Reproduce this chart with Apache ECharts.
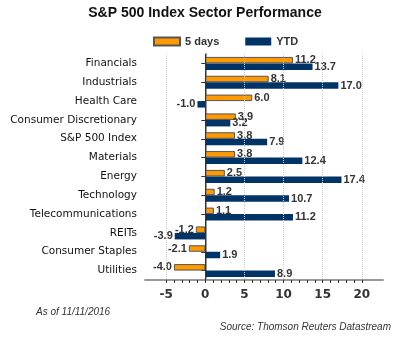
<!DOCTYPE html>
<html>
<head>
<meta charset="utf-8">
<script src="https://cdn.jsdelivr.net/npm/echarts@6/dist/echarts.min.js"></script>
<style>html,body{margin:0;padding:0;background:#fff;}#c{width:411px;height:337px;}</style>
</head>
<body>
<div id="c"></div>
<script>
var categories = ['Financials','Industrials','Health Care','Consumer Discretionary','S&P 500 Index','Materials','Energy','Technology','Telecommunications','REITs','Consumer Staples','Utilities'];
var fiveDays = [11.2, 8.1, 6.0, 3.9, 3.8, 3.8, 2.5, 1.2, 1.1, -1.2, -2.1, -4.0];
var ytd = [13.7, 17.0, -1.0, 3.2, 7.9, 12.4, 17.4, 10.7, 11.2, -3.9, 1.9, 8.9];
var xLabelValues = [-5, 0, 5, 10, 15, 20];
var xTickValues = [-5,-4,-3,-2,-1,0,1,2,3,4,5,6,7,8,9,10,11,12,13,14,15,16,17,18,19,20];
var gridValues = [-5, 5, 10, 15, 20];

function withLabels(arr) {
  return arr.map(function (v) {
    return { value: v, label: { position: v < 0 ? 'left' : 'right' } };
  });
}
var labelStyle = { show: true, fontFamily: 'Liberation Sans', fontSize: 11, fontWeight: 'bold', color: '#333', distance: 2,
  formatter: function (p) { return p.value.toFixed(1); } };

var chart = echarts.init(document.getElementById('c'), null, { renderer: 'canvas' });
chart.setOption({
  animation: false,
  backgroundColor: '#fff',
  title: {
    text: 'S&P 500 Index Sector Performance', left: 200, top: 1, textAlign: 'center',
    textStyle: { fontFamily: 'Liberation Sans', fontSize: 14, fontWeight: 'bold', color: '#111' }
  },
  legend: {
    top: 31, left: 148, itemWidth: 26, itemHeight: 8, itemGap: 26, icon: 'rect',
    textStyle: { fontFamily: 'Liberation Sans', fontSize: 11, fontWeight: 'bold', color: '#333' },
    data: ['5 days', 'YTD']
  },
  grid: { left: 145, right: 28, top: 54, bottom: 57, containLabel: false, outerBoundsMode: 'none' },
  xAxis: {
    type: 'value', min: -7.7, max: 22.7,
    axisLine: { show: true, onZero: false, lineStyle: { color: '#999', width: 2 } },
    axisTick: { show: true, customValues: xTickValues, length: 3, lineStyle: { color: '#333' } },
    axisLabel: { customValues: xLabelValues, margin: 9, fontFamily: 'DejaVu Sans', fontSize: 12, fontWeight: 'bold', color: '#333' },
    splitLine: { show: false }
  },
  yAxis: {
    type: 'category', data: categories, inverse: true,
    axisLine: { show: true, lineStyle: { color: '#999', width: 2 } },
    axisTick: { show: true, alignWithLabel: true, length: 4, lineStyle: { color: '#333' } },
    axisLabel: { fontFamily: 'DejaVu Sans', fontSize: 10.5, color: '#111', margin: 8 }
  },
  series: [
    {
      name: '5 days', type: 'bar', data: withLabels(fiveDays), barWidth: 6.5, barGap: '0%',
      itemStyle: { color: '#FF9900', borderColor: '#555', borderWidth: 1 },
      label: labelStyle,
      markLine: {
        silent: true, symbol: 'none', label: { show: false },
        lineStyle: { color: '#ccc', type: 'dotted', width: 1 },
        data: gridValues.map(function (v) { return { xAxis: v }; }).concat([{ xAxis: 0, lineStyle: { color: '#333', type: 'solid', width: 1 } }])
      },
      z: 3
    },
    {
      name: 'YTD', type: 'bar', data: withLabels(ytd), barWidth: 6.5, barGap: '0%',
      itemStyle: { color: '#003366' },
      label: labelStyle,
      z: 3
    }
  ],
  graphic: [
    { type: 'text', left: 36, top: 307, style: { text: 'As of 11/11/2016', fontFamily: 'Liberation Sans', fontSize: 10, fontStyle: 'italic', fill: '#333' } },
    { type: 'text', right: 20, top: 322, style: { text: 'Source: Thomson Reuters Datastream', fontFamily: 'Liberation Sans', fontSize: 10, fontStyle: 'italic', fill: '#333' } }
  ]
});
</script>
</body>
</html>
